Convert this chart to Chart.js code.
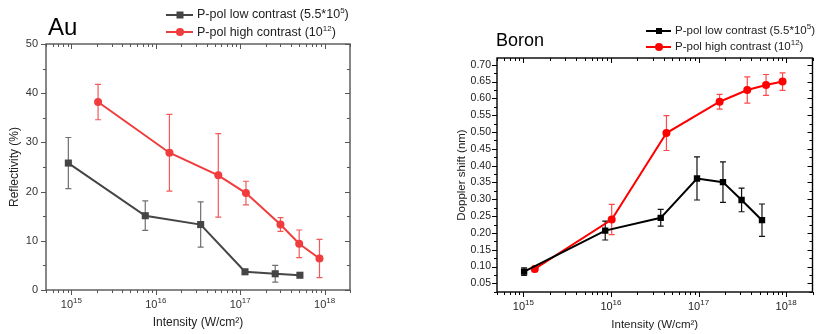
<!DOCTYPE html>
<html>
<head>
<meta charset="utf-8">
<script src="https://cdn.jsdelivr.net/npm/chart.js@4.4.0/dist/chart.umd.min.js"></script>
<style>
  body { margin: 0; background: #fff; width: 817px; height: 334px; overflow: hidden; position: relative;
         font-family: "Liberation Sans", Arial, sans-serif; }
  canvas { position: absolute; top: 0; }
  #auChart { left: 0; }
  #boronChart { left: 400px; }
  .title { position: absolute; color: #000; line-height: 1; white-space: nowrap; }
  .legend { position: absolute; color: #222; white-space: nowrap; }
  .legend .row { display: flex; align-items: center; }
  .legend .icon { position: relative; width: 27px; height: 2px; margin-right: 4px; }
  .legend .mk { position: absolute; top: 50%; left: 50%; transform: translate(-50%, -50%); }
  sup { font-size: 8px; line-height: 0; vertical-align: baseline; position: relative; top: -5px; }
</style>
</head>
<body>
<canvas id="auChart" width="400" height="334"></canvas>
<canvas id="boronChart" width="417" height="334"></canvas>

<div class="title" style="left:48px;top:15px;font-size:24px;">Au</div>
<div class="legend" style="left:166px;top:6px;font-size:12.5px;line-height:17.5px;">
  <div class="row"><span class="icon" style="background:#454545"><span class="mk" style="width:7px;height:7px;background:#454545"></span></span><span>P-pol low contrast (5.5*10<sup>5</sup>)</span></div>
  <div class="row"><span class="icon" style="background:#f03c3c"><span class="mk" style="width:8px;height:8px;border-radius:50%;background:#f03c3c"></span></span><span>P-pol high contrast (10<sup>12</sup>)</span></div>
</div>

<div class="title" style="left:496px;top:31px;font-size:18px;">Boron</div>
<div class="legend" style="left:646px;top:23px;font-size:11.5px;line-height:15.7px;">
  <div class="row"><span class="icon" style="width:25px;background:#000"><span class="mk" style="width:6px;height:6px;background:#000"></span></span><span>P-pol low contrast (5.5*10<sup>5</sup>)</span></div>
  <div class="row"><span class="icon" style="width:25px;background:#f00"><span class="mk" style="width:8px;height:8px;border-radius:50%;background:#f00"></span></span><span>P-pol high contrast (10<sup>12</sup>)</span></div>
</div>

<script>
// Au: reflectivity (%) vs intensity (W/cm2)
const auLowX = [9.2e14, 7.5e15, 3.4e16, 1.14e17, 2.6e17, 5.1e17];
const auLowY = [25.8, 15.1, 13.3, 3.7, 3.3, 3.0];
const auLowErr = [5.2, 3.0, 4.6, 0.4, 1.7, 0.3];
const auHighX = [2.07e15, 1.45e16, 5.5e16, 1.17e17, 3.0e17, 5.0e17, 8.7e17];
const auHighY = [38.2, 27.9, 23.3, 19.7, 13.3, 9.4, 6.4];
const auHighErr = [3.6, 7.8, 8.5, 2.4, 1.4, 2.8, 3.9];
const auYTicks = [0, 10, 20, 30, 40, 50];

// Boron: Doppler shift (nm) vs intensity (W/cm2)
const boronLowX = [1.02e15, 8.6e15, 3.7e16, 9.6e16, 1.9e17, 3.1e17, 5.3e17];
const boronLowY = [0.085, 0.207, 0.245, 0.362, 0.351, 0.298, 0.238];
const boronLowErr = [0.011, 0.028, 0.025, 0.064, 0.06, 0.035, 0.048];
const boronHighX = [1.35e15, 1.02e16, 4.3e16, 1.74e17, 3.6e17, 5.9e17, 9.1e17];
const boronHighY = [0.093, 0.240, 0.497, 0.590, 0.625, 0.640, 0.650];
const boronHighErr = [0.008, 0.045, 0.052, 0.022, 0.039, 0.031, 0.026];
const boronYTicks = [0.05, 0.10, 0.15, 0.20, 0.25, 0.30, 0.35, 0.40, 0.45, 0.50, 0.55, 0.60, 0.65, 0.70];

// decade exponents for the x tick labels
const xDecades = [15, 16, 17, 18];

Chart.defaults.font.family = '"Liberation Sans", Arial, sans-serif';

function pts(xs, ys) {
  return xs.map((x, i) => ({ x: x, y: ys[i] }));
}

// error bars, box frame, origin-style ticks and 10^n labels
const axisFrame = {
  id: 'axisFrame',
  beforeDatasetsDraw(chart) {
    const ctx = chart.ctx, xs = chart.scales.x, ys = chart.scales.y;
    ctx.save();
    chart.data.datasets.forEach(ds => {
      ctx.strokeStyle = ds.errorColor;
      ctx.lineWidth = 1.2;
      ctx.beginPath();
      ds.data.forEach((p, i) => {
        const e = ds.errors[i];
        const px = xs.getPixelForValue(p.x);
        const top = ys.getPixelForValue(p.y + e), bot = ys.getPixelForValue(p.y - e);
        ctx.moveTo(px, top); ctx.lineTo(px, bot);
        ctx.moveTo(px - 3, top); ctx.lineTo(px + 3, top);
        ctx.moveTo(px - 3, bot); ctx.lineTo(px + 3, bot);
      });
      ctx.stroke();
    });
    ctx.restore();
  },
  afterDraw(chart, args, o) {
    const ctx = chart.ctx, a = chart.chartArea, xs = chart.scales.x, ys = chart.scales.y;
    ctx.save();
    ctx.strokeStyle = o.color;
    ctx.lineWidth = 1.4;
    ctx.strokeRect(a.left, a.top, a.right - a.left, a.bottom - a.top);

    ctx.lineWidth = 1;
    ctx.beginPath();
    for (let n = 14; n <= 18; n++) {
      for (let k = 1; k <= 9; k++) {
        const v = k * Math.pow(10, n);
        if (v < xs.min || v > xs.max) continue;
        const px = Math.round(xs.getPixelForValue(v)) + 0.5;
        const len = k === 1 ? 5 : 3;
        ctx.moveTo(px, a.bottom); ctx.lineTo(px, a.bottom + len);
        ctx.moveTo(px, a.top); ctx.lineTo(px, a.top + len);
      }
    }
    const step = o.yTicks[1] - o.yTicks[0];
    const yMarks = [];
    o.yTicks.forEach(v => {
      yMarks.push([v, 5]);
      yMarks.push([v - step / 2, 3]);
    });
    yMarks.push([o.yTicks[o.yTicks.length - 1] + step / 2, 3]);
    yMarks.forEach(([v, len]) => {
      if (v < ys.min - 1e-9 || v > ys.max + 1e-9) return;
      const py = Math.round(ys.getPixelForValue(v)) + 0.5;
      ctx.moveTo(a.left, py); ctx.lineTo(a.left - len, py);
      ctx.moveTo(a.right, py); ctx.lineTo(a.right - len, py);
    });
    ctx.stroke();

    ctx.fillStyle = o.labelColor;
    ctx.textBaseline = 'alphabetic';
    ctx.textAlign = 'left';
    xDecades.forEach(n => {
      const px = xs.getPixelForValue(Math.pow(10, n));
      ctx.font = o.labelSize + 'px "Liberation Sans", Arial, sans-serif';
      const w1 = ctx.measureText('10').width;
      ctx.font = '8px "Liberation Sans", Arial, sans-serif';
      const w2 = ctx.measureText(String(n)).width;
      const x0 = px - (w1 + w2) / 2;
      const base = a.bottom + 17.5;
      ctx.font = o.labelSize + 'px "Liberation Sans", Arial, sans-serif';
      ctx.fillText('10', x0, base);
      ctx.font = '8px "Liberation Sans", Arial, sans-serif';
      ctx.fillText(String(n), x0 + w1, base - 5);
    });
    ctx.restore();
  }
};

function makeChart(id, cfg) {
  return new Chart(document.getElementById(id), {
    type: 'line',
    data: { datasets: cfg.datasets },
    plugins: [axisFrame],
    options: {
      responsive: false,
      animation: false,
      layout: { padding: cfg.padding },
      plugins: {
        legend: { display: false },
        tooltip: { enabled: false },
        axisFrame: { color: cfg.frameColor, labelColor: cfg.labelColor, labelSize: 11, yTicks: cfg.yTicks }
      },
      scales: {
        x: {
          type: 'logarithmic',
          min: 5e14,
          max: 2e18,
          grid: { display: false, drawTicks: false },
          border: { display: false },
          ticks: { display: false },
          title: { display: true, text: 'Intensity (W/cm²)', color: '#222',
                   font: { size: cfg.titleSize }, padding: { top: 0, bottom: cfg.xTitlePad } },
          afterFit(s) { s.height = cfg.xHeight; }
        },
        y: {
          type: 'linear',
          min: cfg.yMin,
          max: cfg.yMax,
          grid: { display: false, drawTicks: false },
          border: { display: false },
          ticks: { padding: cfg.tickPad, color: cfg.labelColor, font: { size: cfg.yTickSize },
                   callback: cfg.yFormat },
          afterBuildTicks(s) { s.ticks = cfg.yTicks.map(v => ({ value: v })); },
          title: { display: true, text: cfg.yTitle, color: '#222',
                   font: { size: cfg.titleSize }, padding: { top: cfg.yTitlePad, bottom: 0 } },
          afterFit(s) { s.width = cfg.yWidth; }
        }
      }
    }
  });
}

makeChart('auChart', {
  padding: { top: 44, right: 50, left: 0, bottom: 0 },
  xHeight: 44,
  yWidth: 46,
  yMin: 0,
  yMax: 50,
  yTicks: auYTicks,
  yFormat: v => String(v),
  yTickSize: 11,
  tickPad: 8,
  yTitle: 'Reflectivity (%)',
  yTitlePad: 7,
  xTitlePad: 4,
  titleSize: 12,
  frameColor: '#555',
  labelColor: '#333',
  datasets: [
    {
      label: 'P-pol low contrast',
      data: pts(auLowX, auLowY),
      errors: auLowErr,
      errorColor: '#707070',
      borderColor: '#454545',
      backgroundColor: '#454545',
      borderWidth: 2,
      pointStyle: 'rect',
      pointRadius: 5,
      pointBorderWidth: 0,
      tension: 0
    },
    {
      label: 'P-pol high contrast',
      data: pts(auHighX, auHighY),
      errors: auHighErr,
      errorColor: '#f25a5a',
      borderColor: '#f03c3c',
      backgroundColor: '#f03c3c',
      borderWidth: 2,
      pointStyle: 'circle',
      pointRadius: 4,
      pointBorderWidth: 0,
      tension: 0
    }
  ]
});

makeChart('boronChart', {
  padding: { top: 58, right: 3, left: 0, bottom: 0 },
  xHeight: 42,
  yWidth: 97,
  yMin: 0.0245,
  yMax: 0.72,
  yTicks: boronYTicks,
  yFormat: v => v.toFixed(2),
  yTickSize: 10.5,
  tickPad: 6,
  yTitle: 'Doppler shift (nm)',
  yTitlePad: 55,
  xTitlePad: 2,
  titleSize: 11.5,
  frameColor: '#000',
  labelColor: '#222',
  datasets: [
    {
      label: 'P-pol low contrast',
      data: pts(boronLowX, boronLowY),
      errors: boronLowErr,
      errorColor: '#111',
      borderColor: '#000',
      backgroundColor: '#000',
      borderWidth: 2,
      pointStyle: 'rect',
      pointRadius: 4.5,
      pointBorderWidth: 0,
      tension: 0
    },
    {
      label: 'P-pol high contrast',
      data: pts(boronHighX, boronHighY),
      errors: boronHighErr,
      errorColor: '#ff4a4a',
      borderColor: '#f00',
      backgroundColor: '#f00',
      borderWidth: 2,
      pointStyle: 'circle',
      pointRadius: 4,
      pointBorderWidth: 0,
      tension: 0
    }
  ]
});
</script>
</body>
</html>
